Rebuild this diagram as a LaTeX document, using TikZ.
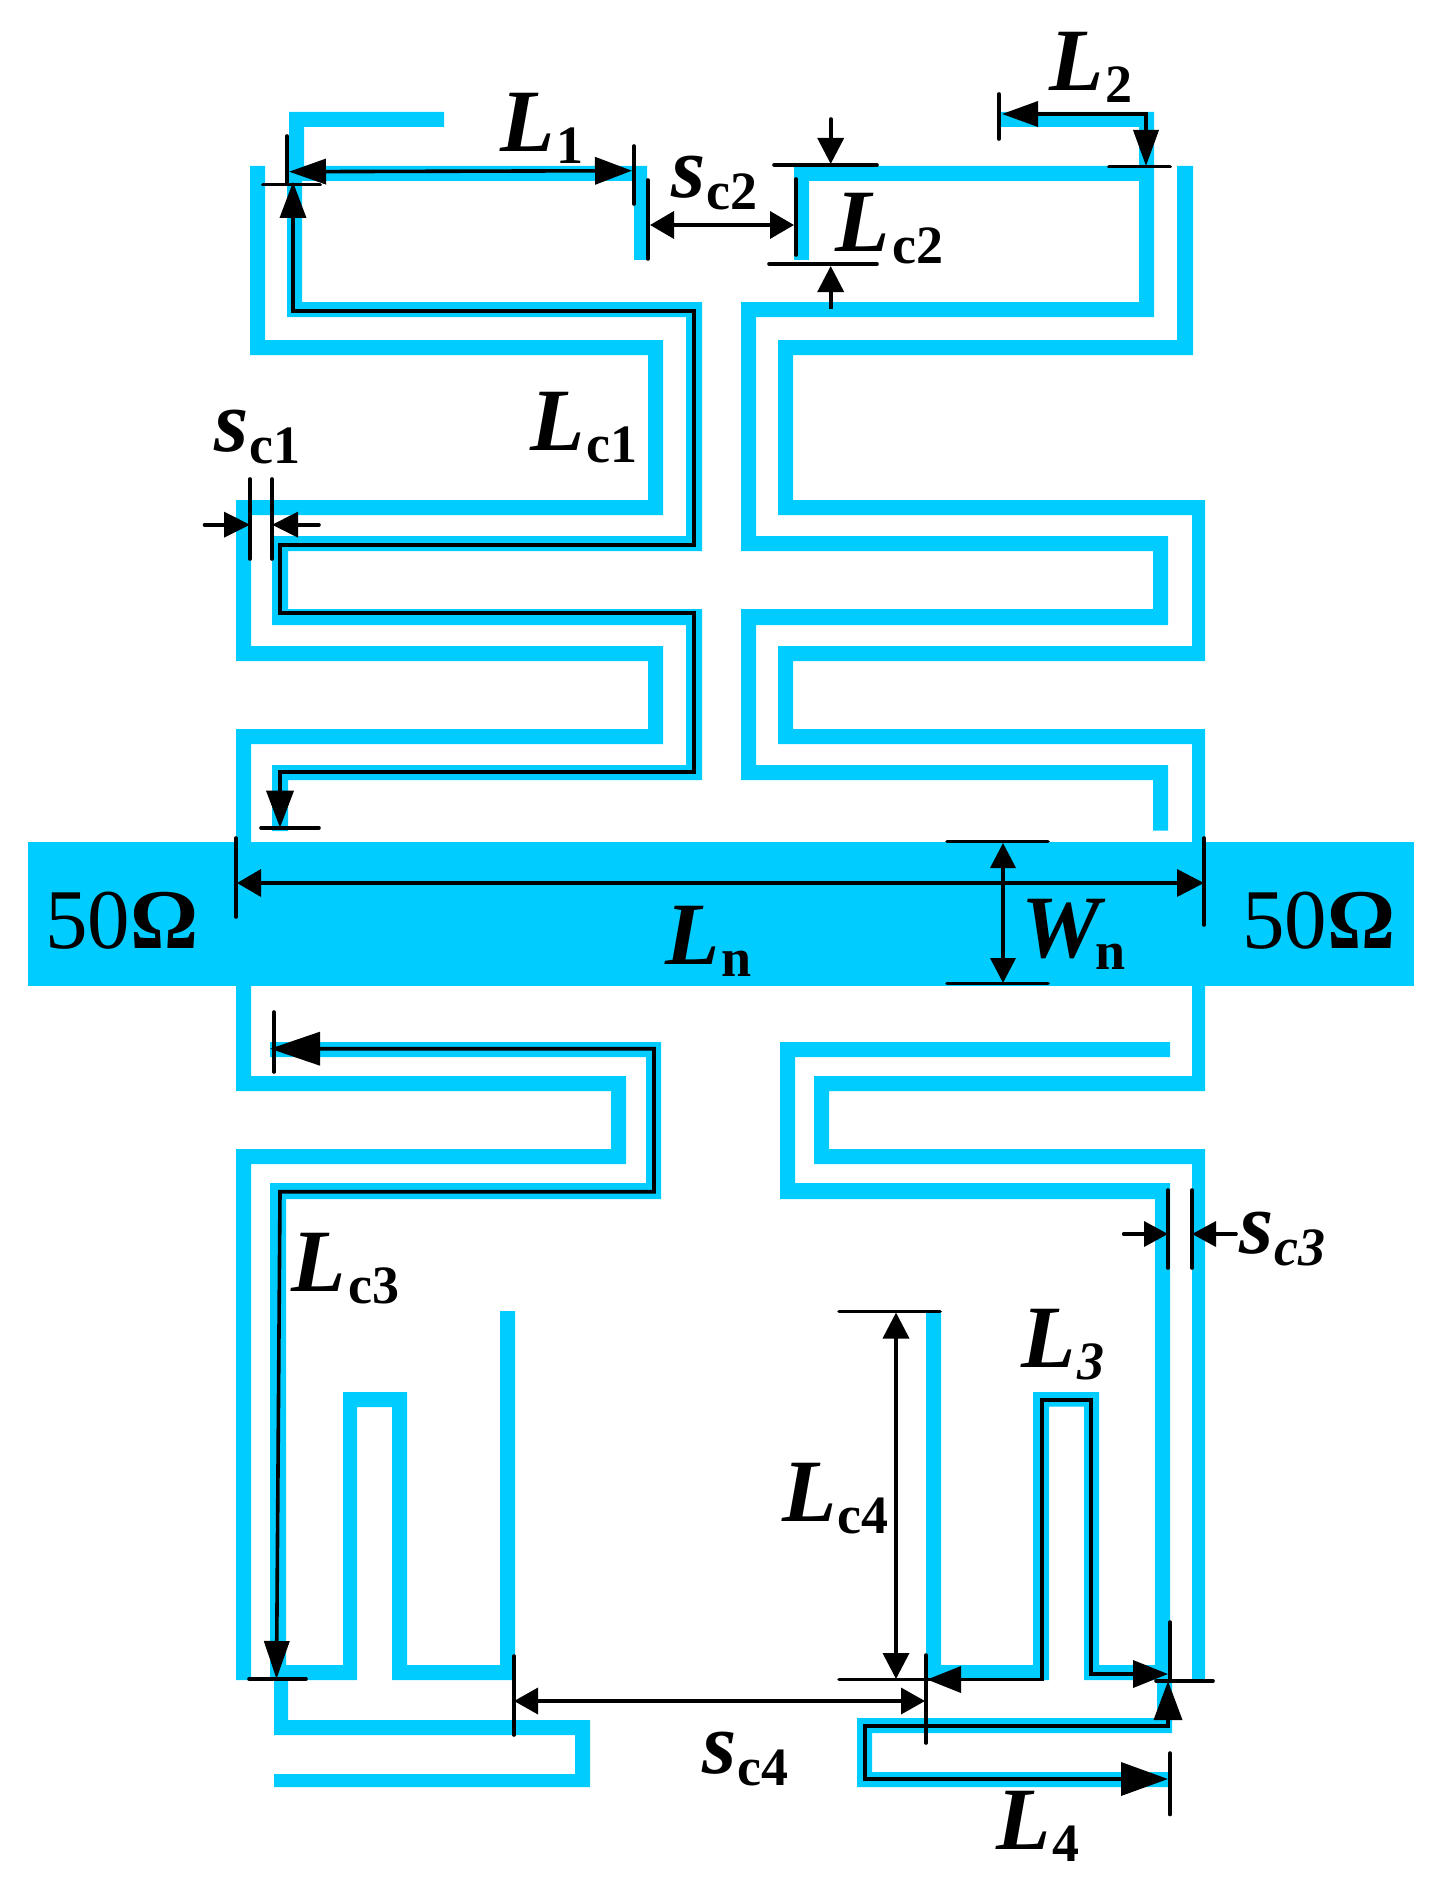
\documentclass[tikz,border=0pt]{standalone}
\usepackage{fontspec}
\setmainfont{Liberation Serif}
\usetikzlibrary{arrows.meta}
\definecolor{stripblue}{HTML}{00CCFF}
\newcommand{\dimlab}[3]{{\fontsize{89}{89}\selectfont\bfseries\itshape #1}\kern#2pt\raisebox{-12pt}{\fontsize{54}{54}\selectfont\bfseries #3}}
\newcommand{\dimlabit}[3]{{\fontsize{89}{89}\selectfont\bfseries\itshape #1}\kern#2pt\raisebox{-12pt}{\fontsize{54}{54}\selectfont\bfseries\itshape #3}}
\newcommand{\gaplab}[3]{{\fontsize{88}{88}\selectfont\bfseries\itshape #1}\kern#2pt\raisebox{-12pt}{\fontsize{54}{54}\selectfont\bfseries #3}}
\newcommand{\gaplabit}[3]{{\fontsize{88}{88}\selectfont\bfseries\itshape #1}\kern#2pt\raisebox{-12pt}{\fontsize{54}{54}\selectfont\bfseries\itshape #3}}
\tikzset{
  strip/.style={fill=stripblue,draw=none},
  dimline/.style={draw=black,line width=3.6pt,line join=miter},
  tick/.style={draw=black,line width=3.6pt,line cap=round},
  tips/.style n args={4}{arrows={Triangle[length=#1pt,width=#2pt]-Triangle[length=#3pt,width=#4pt]}},
  endtip/.style 2 args={arrows={-Triangle[length=#1pt,width=#2pt]}},
  lab/.style={anchor=base west,inner sep=0pt,text=black},
  ohm/.style={anchor=base west,inner sep=0pt,text=black,font=\fontsize{85}{85}\selectfont}
}
\begin{document}
\begin{tikzpicture}[x=1pt,y=-1pt]
\useasboundingbox (0,0) rectangle (1436,1886);
% feed line
\fill[strip] (28,842) rectangle (1414,985.7);
% upper left resonators
\fill[strip] (289,112) rectangle (444,127) (289,112) rectangle (304,166)
  (289,166) rectangle (647,181) (634,166) rectangle (647,260)
  (287,181) rectangle (302,317) (287,302) rectangle (702,317) (686,302) rectangle (702,551)
  (272,536) rectangle (702,551) (272,536) rectangle (288,625) (272,609) rectangle (702,625)
  (686,609) rectangle (702,780) (272,765) rectangle (702,780) (272,765) rectangle (288,831);
\fill[strip] (250,166) rectangle (265,355) (250,340) rectangle (663,355) (648,340) rectangle (663,515)
  (236,500) rectangle (663,515) (236,500) rectangle (251,661) (236,646) rectangle (663,661)
  (648,646) rectangle (663,744) (236,729) rectangle (663,744) (236,729) rectangle (251,842);
% upper right resonators
\fill[strip] (1001,112) rectangle (1154,127) (1139,112) rectangle (1154,317)
  (794,166) rectangle (1154,181) (794,166) rectangle (809,260)
  (741,302) rectangle (1154,317) (741,302) rectangle (756,551) (741,536) rectangle (1168,551)
  (1153,536) rectangle (1168,625) (741,609) rectangle (1168,625) (741,609) rectangle (756,780)
  (741,765) rectangle (1168,780) (1153,765) rectangle (1168,830.5);
\fill[strip] (1177,166) rectangle (1193,355) (778,340) rectangle (1193,355) (778,340) rectangle (793,515)
  (778,500) rectangle (1205,515) (1192,500) rectangle (1205,661) (778,646) rectangle (1205,661)
  (778,646) rectangle (793,744) (778,729) rectangle (1205,744) (1192,729) rectangle (1205,842);
% lower left resonators
\fill[strip] (236,985) rectangle (251,1091) (236,1076) rectangle (626,1091) (611,1076) rectangle (626,1164)
  (236,1149) rectangle (626,1164) (236,1149) rectangle (251,1680);
\fill[strip] (270,1042) rectangle (661,1057) (646,1042) rectangle (661,1199) (270,1183) rectangle (661,1199)
  (270,1183) rectangle (286,1680) (270,1665) rectangle (357,1680) (343,1392) rectangle (357,1680)
  (343,1392) rectangle (407,1407) (392,1392) rectangle (407,1680) (392,1665) rectangle (515,1680)
  (500,1311) rectangle (515,1680);
\fill[strip] (274,1680) rectangle (288,1735) (274,1720) rectangle (590,1735)
  (575,1720) rectangle (590,1787) (274,1774) rectangle (590,1787);
% lower right resonators
\fill[strip] (1192,985) rectangle (1205,1091) (814,1076) rectangle (1205,1091) (814,1076) rectangle (829,1164)
  (814,1149) rectangle (1205,1164) (1192,1149) rectangle (1205,1680);
\fill[strip] (780,1042) rectangle (1170,1057) (780,1042) rectangle (795,1199) (780,1183) rectangle (1170,1199)
  (1155,1183) rectangle (1170,1680);
\fill[strip] (926,1311) rectangle (941,1680) (926,1665) rectangle (1049,1680) (1033,1392) rectangle (1049,1680)
  (1033,1392) rectangle (1099,1406.5) (1084,1392) rectangle (1099,1680) (1084,1665) rectangle (1170,1680);
\fill[strip] (1157,1680) rectangle (1172,1733) (857,1718) rectangle (1172,1733)
  (857,1718) rectangle (872,1787) (857,1772) rectangle (1170,1787);

% dimension end points
\coordinate (La) at (289,171.7); \coordinate (Lb) at (632,170.7);
\coordinate (Lca) at (293,182); \coordinate (Lcb) at (280,827.7);
\coordinate (Sa) at (650,225); \coordinate (Sb) at (794,225);
\coordinate (Wa) at (1003,843); \coordinate (Wb) at (1003,983);
\coordinate (Na) at (237,883); \coordinate (Nb) at (1204,883);

% L1
\draw[dimline,tips={37}{25}{37}{27}] (La) -- (Lb);
\draw[tick] (287,136) -- (287,183);
\draw[tick] (263,184.7) -- (320,184.7);
\draw[tick] (634,146) -- (634,204);
% Lc1
\draw[dimline,tips={36}{26}{37}{27}] (Lca) -- (293,310.7) -- (694,310.7) -- (694,545) -- (280,545) -- (280,613) -- (694,613) -- (694,771.7) -- (280,771.7) -- (Lcb);
\draw[tick] (261,827.7) -- (319,827.7);
% sc2
\draw[dimline,tips={24}{27}{24}{27}] (Sa) -- (Sb);
\draw[tick] (647.7,180) -- (647.7,259);
\draw[tick] (796,179) -- (796,255);
% Lc2
\draw[dimline,endtip={26}{26},line cap=round] (830.7,119) -- (830.7,164);
\draw[dimline,endtip={26}{26}] (830.7,309) -- (830.7,266);
\draw[tick] (774,165) -- (877,165);
\draw[tick] (769,264) -- (877,264);
% L2
\draw[dimline,tips={36}{25}{36}{25}] (1002,114) -- (1146,114) -- (1146,166);
\draw[tick] (999,94) -- (999,139);
\draw[tick] (1109,166.7) -- (1170,166.7);
% sc1
\draw[dimline,endtip={26}{25},line cap=round] (204.5,524.7) -- (250,524.7);
\draw[dimline,endtip={26}{25},line cap=round] (319,524.7) -- (272,524.7);
\draw[tick] (250,479) -- (250,559);
\draw[tick] (272,479) -- (272,559);
% Ln
\draw[dimline,tips={24}{27}{27}{27}] (Na) -- (Nb);
\draw[tick] (236,838) -- (236,917);
\draw[tick] (1204,838) -- (1204,925);
% Wn
\draw[dimline,tips={25}{25}{25}{25}] (Wa) -- (Wb);
\draw[tick] (947,841.6) -- (1048,841.6);
\draw[tick] (947,983.5) -- (1048,983.5);
% Lc3
\draw[dimline,tips={50}{33}{38}{25}] (270,1048.7) -- (654,1048.7) -- (654,1191.7) -- (280,1191.7) -- (276.5,1679);
\draw[tick] (274,1012) -- (274,1072);
\draw[tick] (249,1679) -- (306,1679);
% sc4
\draw[dimline,tips={24}{26}{24}{26}] (514,1701) -- (925,1701);
\draw[tick] (514,1656) -- (514,1735);
\draw[tick] (926,1655) -- (926,1743);
% Lc4
\draw[dimline,tips={26}{26}{26}{26}] (896,1312.5) -- (896,1679);
\draw[tick] (839,1311.4) -- (940,1311.4);
\draw[tick] (839,1679.5) -- (930,1679.5);
% sc3
\draw[dimline,endtip={24}{25},line cap=round] (1123.6,1234) -- (1168,1234);
\draw[dimline,endtip={24}{25},line cap=round] (1236,1234) -- (1192,1234);
\draw[tick] (1168,1190) -- (1168,1268);
\draw[tick] (1192,1190) -- (1192,1268);
% L3
\draw[dimline,tips={34}{26}{35}{27}] (927,1679.5) -- (1041.7,1679.5) -- (1041.7,1400) -- (1091,1400) -- (1091,1674) -- (1168,1674);
\draw[tick] (1170,1622) -- (1170,1681);
\draw[tick] (1156,1681) -- (1213,1681);
% L4
\draw[dimline,tips={39}{28}{47}{33}] (1168,1681) -- (1168,1726) -- (865,1726) -- (865,1779) -- (1168,1779);
\draw[tick] (1170,1753) -- (1170,1814.5);

% labels
\node[lab] (tL1) at (500,151.7) {\dimlab{L}{2}{1}};
\node[lab] (tL2) at (1049,90.7) {\dimlab{L}{2}{2}};
\node[lab] (tL3) at (1021,1367.7) {\dimlabit{L}{2}{3}};
\node[lab] (tL4) at (996,1849) {\dimlab{L}{2}{4}};
\node[lab] (tLc1) at (530,450.7) {\dimlab{L}{2}{c1}};
\node[lab] (tLc2) at (835,252) {\dimlab{L}{3}{c2}};
\node[lab] (tLc3) at (291,1291.7) {\dimlab{L}{3}{c3}};
\node[lab] (tLc4) at (782,1521) {\dimlab{L}{1}{c4}};
\node[lab] (tsc1) at (214.5,451.7) {\gaplab{s}{1}{c1}};
\node[lab] (tsc2) at (671,198) {\gaplab{s}{1}{c2}};
\node[lab] (tsc3) at (1239.5,1253) {\gaplabit{s}{1}{c3}};
\node[lab] (tsc4) at (702,1773) {\gaplab{s}{1}{c4}};
\node[lab] (tLn) at (665,964.5) {\dimlab{L}{2}{n}};
\node[lab] (tWn) at (1021,957) {\dimlab{W}{-5}{n}};
\node[ohm] (ohmL) at (45,948) {50{\bfseries Ω}};
\node[ohm] (ohmR) at (1242,948) {50{\bfseries Ω}};
\end{tikzpicture}
\end{document}
